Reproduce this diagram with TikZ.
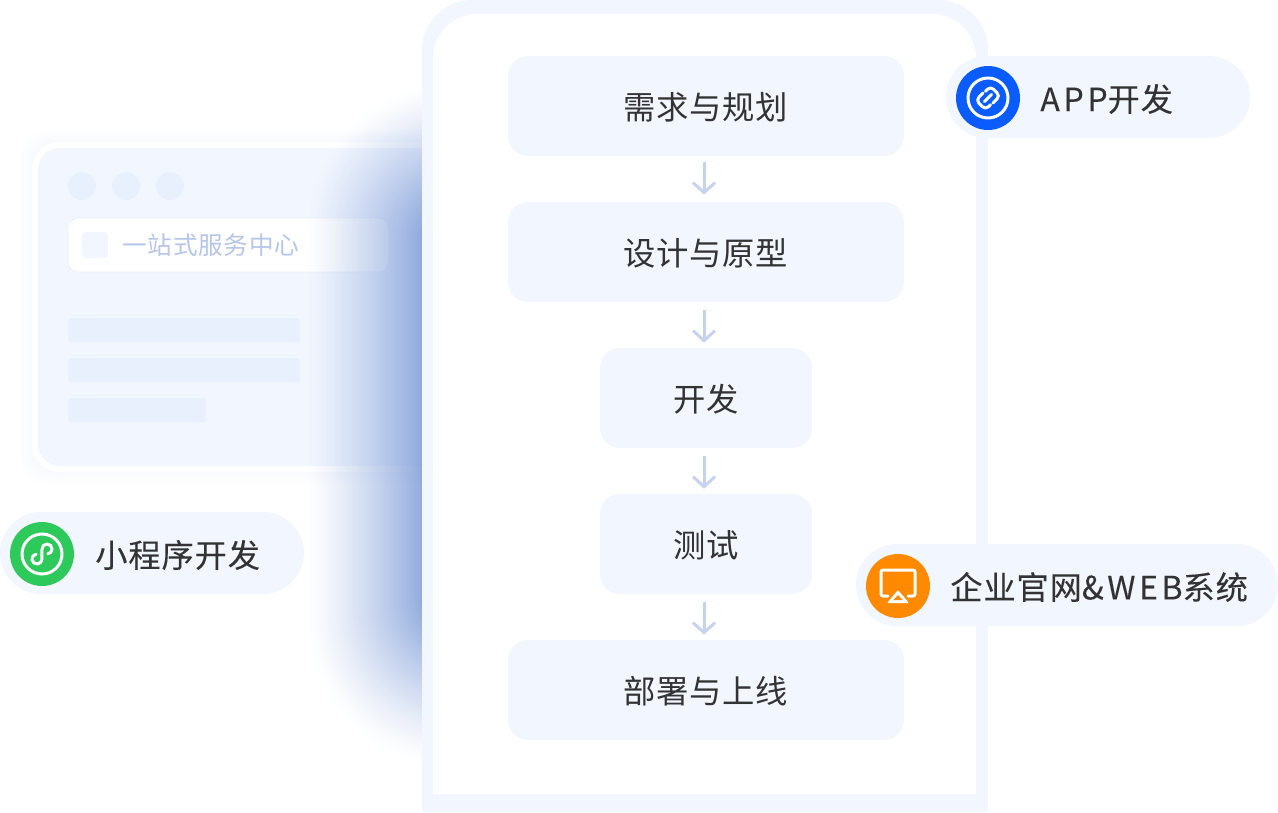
\documentclass[tikz,border=0pt]{standalone}
\usepackage{fontspec}
\usetikzlibrary{arrows.meta,fadings}
\setmainfont{Noto Sans CJK SC}
\newfontfamily\stepfont[LetterSpace=2]{Noto Sans CJK SC}
\newfontfamily\pillfont[LetterSpace=3,FakeBold=0.15]{Noto Sans CJK SC}
\newfontfamily\pilllatin[LetterSpace=11,FakeBold=0.15]{Noto Sans CJK SC}
\newfontfamily\hintfont[LetterSpace=3]{Noto Sans CJK SC}
\definecolor{PaleBlue}{HTML}{F2F6FE}
\definecolor{BarBlue}{HTML}{E9F0FD}
\definecolor{GlowBlue}{HTML}{7D9BD7}
\definecolor{ArrowBlue}{HTML}{C5D3F1}
\definecolor{HintBlue}{HTML}{B5C6E8}
\definecolor{TextGray}{HTML}{333333}
\definecolor{AppBlue}{HTML}{0A5CFF}
\definecolor{MiniGreen}{HTML}{2DC95B}
\definecolor{WebOrange}{HTML}{FF8A00}
\tikzset{
  stepbox/.style={rectangle, fill=PaleBlue, rounded corners=0.4cm, text=TextGray,
                  font=\stepfont\fontsize{18.4}{20}\selectfont, minimum height=2cm,
                  text height=16.4pt, text depth=0.5pt},
  wide/.style={stepbox, minimum width=7.92cm},
  narrow/.style={stepbox, minimum width=4.24cm},
  flow/.style={ArrowBlue, line width=0.06cm, shorten <=0.16cm, shorten >=0.1cm,
               -{Straight Barb[length=0.2cm,width=0.44cm,line width=0.06cm]}},
  pill/.style={rectangle, fill=PaleBlue, rounded corners=0.82cm, minimum height=1.64cm},
  pilltext/.style={anchor=west, text=TextGray, inner sep=0pt,
                   font=\pillfont\fontsize{18.3}{20}\selectfont},
  badge/.style={circle, minimum size=1.28cm, inner sep=0pt},
  bar/.style={rectangle, fill=BarBlue, rounded corners=0.06cm, minimum height=0.48cm},
  dot/.style={circle, fill=BarBlue, minimum size=0.56cm, inner sep=0pt},
  icon/.style={white, line width=0.06cm, line cap=round, line join=round}
}
\begin{tikzfadingfrompicture}[name=phoneglow, x=0.02cm, y=-0.02cm]
  \fill[black] (-1500,-1500) rectangle (1500,1500);
  \foreach \i in {0,...,60} {
    \pgfmathsetmacro{\lev}{84*pow(\i/60,1.3)}
    \fill[white!\lev!black, rounded corners=3cm-0.035cm*\i]
      ({305+\i*1.95},{80+\i*2}) rectangle (800,{770-\i*2.2});
  }
\end{tikzfadingfrompicture}
\begin{document}
\begin{tikzpicture}[x=0.02cm, y=-0.02cm]
\useasboundingbox (0,0) rectangle (1278,812);

% window behind the phone
\foreach \i in {1,...,6}
  \fill[BarBlue, opacity=0.06, rounded corners=0.5cm] ({32-2*\i},{142-2*\i}) rectangle (440,{472+2*\i});
\fill[white, rounded corners=0.56cm] (32,142) rectangle (440,472);
\fill[PaleBlue, rounded corners=0.44cm] (38,148) rectangle (440,466);
\node (dot1) at (82,186) [dot] {};
\node (dot2) at (126,186) [dot] {};
\node (dot3) at (170,186) [dot] {};
\node (search) at (228.5,245) [rectangle, draw=BarBlue, fill=white, rounded corners=0.2cm,
  minimum width=6.42cm, minimum height=1.08cm] {};
\node (searchicon) at (95,245) [rectangle, fill=PaleBlue, rounded corners=0.08cm, minimum size=0.52cm] {};
\node (searchtext) at (122,245) [anchor=west, inner sep=0pt, text=HintBlue,
  font=\hintfont\fontsize{14}{16}\selectfont] {一站式服务中心};
\node (bar1) at (184,330) [bar, minimum width=4.64cm] {};
\node (bar2) at (184,370) [bar, minimum width=4.64cm] {};
\node (bar3) at (137,410) [bar, minimum width=2.76cm] {};

% glow of the phone
\begin{scope}
  \clip (0,0) rectangle (423,812);
  \fill[GlowBlue, path fading=phoneglow, fit fading=false] (0,0) rectangle (1278,812);
\end{scope}

% phone
\fill[PaleBlue] (422,812) [rounded corners=1cm] -- (422,0) -- (988,0) [sharp corners] -- (988,812) -- cycle;
\fill[white] (433,794) [rounded corners=0.88cm] -- (433,14) -- (976,14) [sharp corners] -- (976,794) -- cycle;

\node (plan) at (706,106) [wide] {需求与规划};
\node (design) at (706,252) [wide] {设计与原型};
\node (dev) at (706,398) [narrow] {开发};
\node (test) at (706,544) [narrow] {测试};
\node (deploy) at (706,690) [wide] {部署与上线};

\draw[flow, shorten <=0.12cm, shorten >=0.14cm] ([xshift=-0.04cm]plan.south) -- ([xshift=-0.04cm]design.north);
\draw[flow] ([xshift=-0.04cm]design.south) -- ([xshift=-0.04cm]dev.north);
\draw[flow] ([xshift=-0.04cm]dev.south) -- ([xshift=-0.04cm]test.north);
\draw[flow] ([xshift=-0.04cm]test.south) -- ([xshift=-0.04cm]deploy.north);

% pills
\node (apppill) at (1098,97) [pill, minimum width=6.08cm] {};
\node (appbadge) at (988,98) [badge, fill=AppBlue] {};
\node (apptext) at (1040,99) [pilltext] {{\pilllatin APP}开发};
\draw[icon] (appbadge) circle (20);
\begin{scope}[shift={(988,98)}, rotate=45]
  \draw[icon, rounded corners=0.08cm] (0,-7) -- (-10,-7) -- (-10,6.5) -- (-3,6.5);
  \draw[icon, rounded corners=0.08cm] (0,7) -- (10,7) -- (10,-6.5) -- (3,-6.5);
  \draw[icon] (-5,0) -- (5,0);
\end{scope}

\node (minipill) at (152,553) [pill, minimum width=6.08cm] {};
\node (minibadge) at (42,554) [badge, fill=MiniGreen] {};
\node (minitext) at (95,555) [pilltext] {小程序开发};
\draw[icon] (minibadge) circle (20);
\begin{scope}[shift={(42,554)}]
  \draw[icon] (-5.9,0.1) arc (-100:-360:5) -- (0,-5) arc (180:440:5);
\end{scope}

\node (webpill) at (1067,585) [pill, minimum width=8.44cm] {};
\node (webbadge) at (898,586) [badge, fill=WebOrange] {};
\node (webtext) at (950,587) [pilltext] {企业官网{\pilllatin \&WEB}系统};
\draw[icon, rounded corners=0.04cm] (888,596) -- (881,596) -- (881,570) -- (915,570) -- (915,596) -- (908,596);
\fill[white, rounded corners=0.02cm] (898,590) -- (909,603) -- (887,603) -- cycle;
\fill[WebOrange] (898,595) -- (902.5,600) -- (893.5,600) -- cycle;
\end{tikzpicture}
\end{document}
